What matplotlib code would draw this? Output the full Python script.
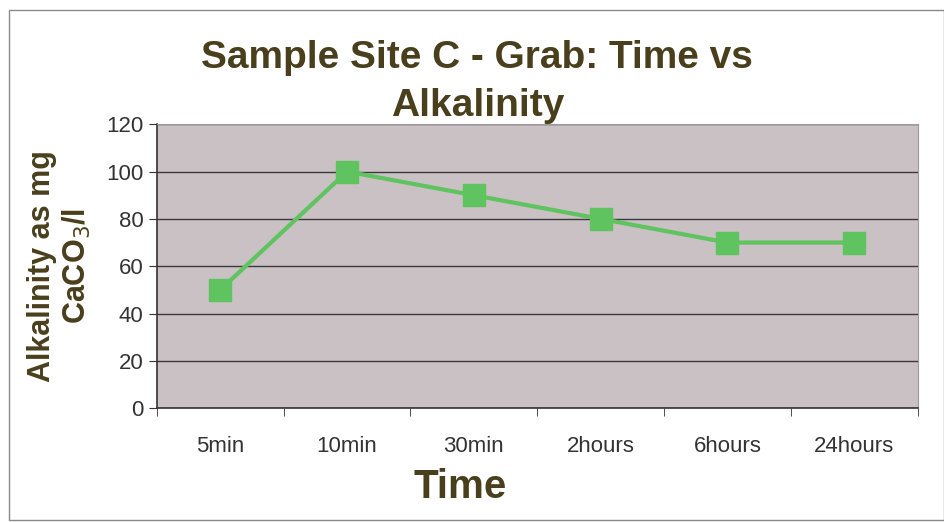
import matplotlib.pyplot as plt
import matplotlib.patches as patches

# Chart data
times = ['5min', '10min', '30min', '2hours', '6hours', '24hours']
alkalinity = [50, 100, 90, 80, 70, 70]

text_color = '#4a3f1c'
plt.rcParams['font.family'] = ['Liberation Sans', 'DejaVu Sans']

fig = plt.figure(figsize=(9.45, 5.22), dpi=100)
ax = fig.add_axes([0.166, 0.218, 0.805, 0.544])

# Outer frame around the chart area
fig.patches.append(patches.Rectangle((0.009, 0.004), 0.99, 0.976, transform=fig.transFigure,
                                     fill=False, edgecolor='#8a8a8a', linewidth=1.0))

ax.set_facecolor('#c9c1c3')
x = list(range(len(times)))
ax.plot(x, alkalinity, color='#5fc35f', linewidth=3, marker='s', markersize=16,
        markerfacecolor='#5fc35f', markeredgecolor='#5fc35f', zorder=3)

ax.set_xlim(-0.5, len(times) - 0.5)
ax.set_ylim(0, 120)
ax.set_yticks(range(0, 121, 20))
ax.yaxis.grid(True, color='#3a3a3a', linewidth=1.0)
ax.set_axisbelow(True)

ax.set_xticks(x)
ax.set_xticklabels(times)
ax.set_xticks([i - 0.5 for i in range(len(times) + 1)], minor=True)
ax.tick_params(axis='x', which='major', length=0, pad=20, labelsize=16, labelcolor='#333333')
ax.tick_params(axis='x', which='minor', length=6, color='#333333')
ax.tick_params(axis='y', length=6, labelsize=16, labelcolor='#333333', color='#333333')

for side in ['top', 'right']:
    ax.spines[side].set_color('#9a9a9a')
for side in ['left', 'bottom']:
    ax.spines[side].set_color('#333333')
    ax.spines[side].set_linewidth(1.2)

fig.text(0.505, 0.843, 'Sample Site C - Grab: Time vs\nAlkalinity', ha='center', va='center',
         fontsize=28, fontweight='bold', color=text_color, linespacing=1.42, zorder=5)
ax.set_ylabel('Alkalinity as mg\nCaCO$_3$/l', fontsize=22, fontweight='bold', color=text_color,
              labelpad=10, linespacing=1.15)
fig.text(0.487, 0.067, 'Time', ha='center', va='center', fontsize=29, fontweight='bold',
         color=text_color)

fig.savefig('out.png', dpi=100, facecolor='white')
